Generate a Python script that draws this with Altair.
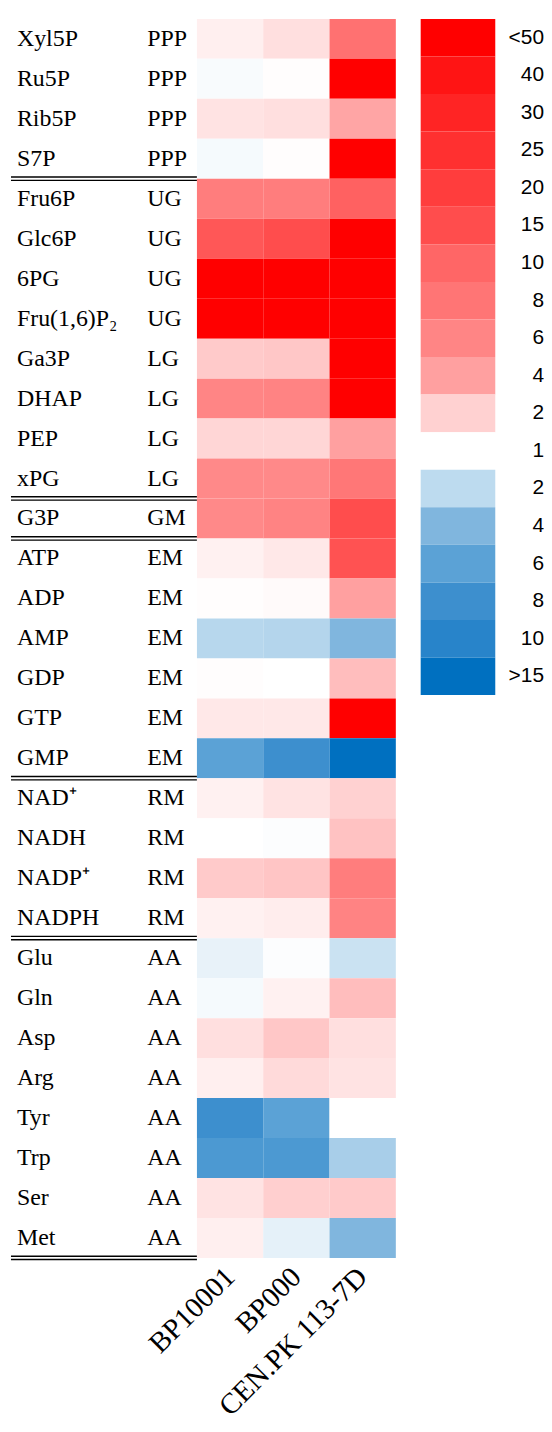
import altair as alt
import pandas as pd

# ---- data ----
names = ["Xyl5P", "Ru5P", "Rib5P", "S7P",
         "Fru6P", "Glc6P", "6PG", "Fru(1,6)P\u2082", "Ga3P", "DHAP", "PEP", "xPG",
         "G3P",
         "ATP", "ADP", "AMP", "GDP", "GTP", "GMP",
         "NAD\u207a", "NADH", "NADP\u207a", "NADPH",
         "Glu", "Gln", "Asp", "Arg", "Tyr", "Trp", "Ser", "Met"]
pathways = ["PPP", "PPP", "PPP", "PPP",
            "UG", "UG", "UG", "UG", "LG", "LG", "LG", "LG",
            "GM",
            "EM", "EM", "EM", "EM", "EM", "EM",
            "RM", "RM", "RM", "RM",
            "AA", "AA", "AA", "AA", "AA", "AA", "AA", "AA"]
strains = ["BP10001", "BP000", "CEN.PK 113-7D"]
# signed fold change: positive = increase (red), negative = decrease (blue)
bp10001 = [1.35, -1.1, 1.6, -1.15, 7, 13, 50, 50, 2.3, 6, 1.9, 5.7, 5.7,
           1.3, 1.05, -2.2, 1.05, 1.5, -6, 1.3, 1.0, 2.3, 1.3,
           -1.35, -1.15, 1.7, 1.35, -8, -7, 1.6, 1.35]
bp000 = [1.7, 1.05, 1.7, 1.05, 7, 15, 50, 50, 2.4, 6.3, 1.9, 5.7, 6.2,
         1.5, 1.1, -2.3, 1.0, 1.5, -8, 1.6, -1.05, 2.5, 1.4,
         -1.05, 1.3, 2.4, 1.8, -6, -7, 2.1, -1.4]
cenpk = [8.6, 50, 3.8, 50, 11, 50, 50, 50, 50, 50, 4, 7.8, 15,
         14, 4, -4, 2.8, 50, -15, 2, 2.6, 7, 6.3,
         -1.8, 2.8, 1.7, 1.6, 1.0, -2.7, 2.3, -4]
group_ends = ["S7P", "xPG", "G3P", "GMP", "NADPH", "Met"]
legend_labels = ["<50", "40", "30", "25", "20", "15", "10", "8", "6", "4", "2",
                 "1", "2", "4", "6", "8", "10", ">15"]
legend_values = [50, 40, 30, 25, 20, 15, 10, 8, 6, 4, 2, 1,
                 -2, -4, -6, -8, -10, -15]

color_domain = [-15, -10, -8, -6, -4, -2, -1, 1, 2, 4, 6, 8, 10, 15, 20, 25, 30, 40, 50]
color_range = ["#0070C0", "#2884CA", "#3D8FCE", "#5BA2D6", "#80B6DE", "#BDDBEF",
               "#FFFFFF", "#FFFFFF",
               "#FFD1D1", "#FFA0A0", "#FF8585", "#FF7575", "#FF6666", "#FF4D4D",
               "#FF3D3D", "#FF3030", "#FF2424", "#FF1414", "#FF0000"]

rows = []
for s, vals in zip(strains, [bp10001, bp000, cenpk]):
    for n, v in zip(names, vals):
        rows.append({"name": n, "strain": s, "value": v})
heat_df = pd.DataFrame(rows)
label_df = pd.DataFrame({"name": names, "pathway": pathways})
sep_df = pd.DataFrame({"name": group_ends})
leg_df = pd.DataFrame({"idx": list(range(len(legend_labels))),
                       "label": legend_labels, "value": legend_values})

yscale = alt.Scale(domain=names, paddingInner=0, paddingOuter=0)
color_scale = alt.Scale(domain=color_domain, range=color_range,
                        interpolate="rgb", clamp=True)

SERIF = "Liberation Serif"
H = 1246

# ---- label panel ----
base_lab = alt.Chart(label_df).encode(y=alt.Y("name:N", scale=yscale, axis=None))
names_txt = base_lab.mark_text(align="left", baseline="middle", font=SERIF,
                               fontSize=24, color="black").encode(
    x=alt.value(9), text="name:N")
path_txt = base_lab.mark_text(align="left", baseline="middle", font=SERIF,
                              fontSize=24, color="black").encode(
    x=alt.value(140), text="pathway:N")
sep1 = alt.Chart(sep_df).mark_rule(color="black", strokeWidth=1.4, yOffset=-1.8).encode(
    y=alt.Y("name:N", scale=yscale, axis=None, bandPosition=1),
    x=alt.value(3), x2=alt.value(190))
sep2 = alt.Chart(sep_df).mark_rule(color="black", strokeWidth=1.4, yOffset=1.6).encode(
    y=alt.Y("name:N", scale=yscale, axis=None, bandPosition=1),
    x=alt.value(3), x2=alt.value(190))
labels = alt.layer(names_txt, path_txt, sep1, sep2).properties(width=190, height=H)

# ---- heatmap ----
heat = alt.Chart(heat_df).mark_rect().encode(
    x=alt.X("strain:N", sort=strains,
            scale=alt.Scale(paddingInner=0, paddingOuter=0),
            axis=alt.Axis(title=None, labelAngle=-45, labelAlign="right",
                          labelBaseline="middle", labelFont=SERIF,
                          labelFontSize=29, labelColor="black", domain=False,
                          ticks=False, labelPadding=14, labelLimit=0)),
    y=alt.Y("name:N", scale=yscale, axis=None),
    color=alt.Color("value:Q", scale=color_scale, legend=None),
).properties(width=200, height=H)

# ---- custom legend ----
leg_base = alt.Chart(leg_df).encode(
    y=alt.Y("idx:O", scale=alt.Scale(paddingInner=0, paddingOuter=0), axis=None))
leg_rect = leg_base.mark_rect().encode(
    x=alt.value(25), x2=alt.value(100),
    color=alt.Color("value:Q", scale=color_scale, legend=None))
leg_txt = leg_base.mark_text(align="right", baseline="middle",
                             font="Liberation Sans", fontSize=21,
                             color="black").encode(
    x=alt.value(149), text="label:N")
legend = alt.layer(leg_rect, leg_txt).properties(width=149, height=680)

chart = alt.hconcat(labels, heat, legend, spacing=0, bounds="flush").properties(
    padding={"left": 0, "top": 7, "right": 0, "bottom": 0}
).configure_view(strokeWidth=0)

chart.save("out.html", embed_options={"renderer": "svg", "actions": False})
